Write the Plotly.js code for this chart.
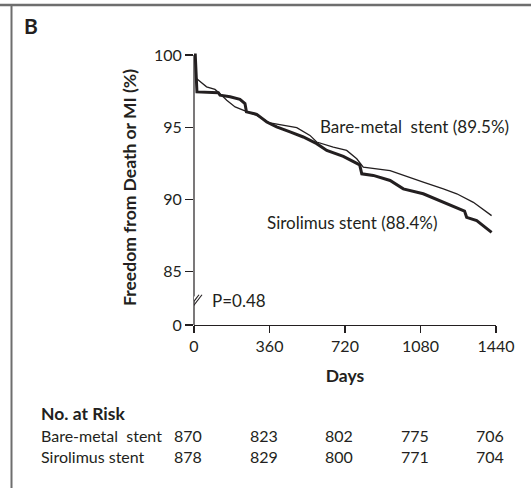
<!DOCTYPE html>
<html>
<head>
<meta charset="utf-8">
<script src="https://cdn.plot.ly/plotly-3.0.1.min.js"></script>
<style>html,body{margin:0;padding:0;background:#fff;}#chart{width:531px;height:488px;}</style>
</head>
<body>
<div id="chart"></div>
<script>
// ---- data ----
const bmsDays = [0, 6, 10, 44, 60, 100, 110, 132, 156, 196, 243, 299, 362, 442, 490, 553, 585, 664, 728, 776, 807, 935, 998, 1093, 1189, 1253, 1332, 1419];
const bmsSurv = [100, 100, 98.4, 98.03, 97.8, 97.62, 97.5, 97.22, 96.88, 96.41, 96.14, 95.83, 95.3, 95.07, 94.98, 94.44, 93.98, 93.63, 93.4, 92.82, 92.25, 92.01, 91.67, 91.2, 90.74, 90.4, 89.81, 88.89];
const sesDays = [0, 6, 14, 116, 124, 172, 219, 243, 250, 299, 347, 394, 458, 521, 585, 633, 712, 776, 790, 800, 855, 935, 998, 1093, 1173, 1253, 1290, 1300, 1348, 1419];
const sesSurv = [100, 100, 97.45, 97.4, 97.22, 97.11, 96.94, 96.64, 96.07, 95.9, 95.37, 95.03, 94.68, 94.33, 93.87, 93.4, 92.99, 92.48, 92.4, 91.78, 91.67, 91.32, 90.74, 90.4, 89.93, 89.47, 89.2, 88.77, 88.54, 87.73];

const xTicks = [0, 360, 720, 1080, 1440];
const yBreakZero = 81.32;            // where the broken-axis "0" sits
const yTickVals = [yBreakZero, 85, 90, 95, 100];
const yTickText = ['0', '85', '90', '95', '100'];

const riskGroups = ['Bare-metal\u00a0 stent', 'Sirolimus stent'];
const riskBms = [870, 823, 802, 775, 706];
const riskSes = [878, 829, 800, 771, 704];

const seriesNames = ['Bare-metal stent', 'Sirolimus stent'];
const seriesLabels = ['Bare-metal\u00a0 stent (89.5%)', 'Sirolimus stent (88.4%)'];
const pValue = 'P=0.48';

// ---- styling ----
const FONT = 'Lato, "Open Sans", sans-serif';
const INK = '#231f20';

const traces = [
  {x: bmsDays, y: bmsSurv, name: seriesNames[0], mode: 'lines', line: {color: INK, width: 1.3}, hoverinfo: 'skip'},
  {x: sesDays, y: sesSurv, name: seriesNames[1], mode: 'lines', line: {color: INK, width: 3}, hoverinfo: 'skip'}
];

const pxToPaperX = px => (px - 194) / 302;
const pxToPaperY = py => (325 - py) / 275;

const annotations = [
  {text: '<b>B</b>', xref: 'paper', yref: 'paper', x: pxToPaperX(22), y: pxToPaperY(25), xanchor: 'left', yanchor: 'middle', showarrow: false, font: {size: 21, color: INK, family: FONT}},
  {text: seriesLabels[0], xref: 'x', yref: 'y', x: 591, y: 95.07, xanchor: 'left', yanchor: 'middle', showarrow: false, font: {size: 17, color: INK, family: FONT}},
  {text: seriesLabels[1], xref: 'x', yref: 'y', x: 338, y: 88.4, xanchor: 'left', yanchor: 'middle', showarrow: false, font: {size: 17, color: INK, family: FONT}},
  {text: pValue, xref: 'x', yref: 'y', x: 76, y: 83.0, xanchor: 'left', yanchor: 'middle', showarrow: false, font: {size: 17, color: INK, family: FONT}},
  {text: '<b>No. at Risk</b>', xref: 'paper', yref: 'paper', x: pxToPaperX(39), y: pxToPaperY(413), xanchor: 'left', yanchor: 'middle', showarrow: false, font: {size: 17.5, color: INK, family: FONT}},
  {text: riskGroups.join('<br>'), xref: 'paper', yref: 'paper', x: pxToPaperX(39), y: pxToPaperY(446), xanchor: 'left', yanchor: 'middle', align: 'left', showarrow: false, font: {size: 16, color: INK, family: FONT}}
];
xTicks.forEach((d, i) => {
  annotations.push({text: riskBms[i] + '<br>' + riskSes[i], xref: 'x', yref: 'paper', x: d, xshift: -6, y: pxToPaperY(446), xanchor: 'center', yanchor: 'middle', align: 'center', showarrow: false, font: {size: 16, color: INK, family: FONT}});
});

const FRAME = '#6e6e6e';
const shapes = [
  // outer frame (top + left)
  {type: 'line', xref: 'paper', yref: 'paper', x0: pxToPaperX(0), x1: pxToPaperX(531), y0: pxToPaperY(5), y1: pxToPaperY(5), line: {color: FRAME, width: 2.5}},
  {type: 'line', xref: 'paper', yref: 'paper', x0: pxToPaperX(11.5), x1: pxToPaperX(11.5), y0: pxToPaperY(4), y1: pxToPaperY(490), line: {color: FRAME, width: 2}},
  // y axis line
  {type: 'line', xref: 'paper', yref: 'y', x0: 0, x1: 0, y0: yBreakZero, y1: 100, line: {color: INK, width: 1.2}},
  // axis break
  {type: 'line', xref: 'x', yref: 'y', xsizemode: 'pixel', ysizemode: 'pixel', xanchor: 0, yanchor: 83.0, x0: -9, x1: 7, y0: -10, y1: 10, line: {color: '#ffffff', width: 3}},
  {type: 'line', xref: 'x', yref: 'y', xsizemode: 'pixel', ysizemode: 'pixel', xanchor: 0, yanchor: 83.0, x0: -8, x1: 5, y0: -11, y1: 6, line: {color: INK, width: 1.1}},
  {type: 'line', xref: 'x', yref: 'y', xsizemode: 'pixel', ysizemode: 'pixel', xanchor: 0, yanchor: 83.0, x0: -5, x1: 8, y0: -11, y1: 6, line: {color: INK, width: 1.1}}
];

const layout = {
  width: 531, height: 488,
  margin: {l: 194, r: 35, t: 50, b: 163, pad: 0},
  paper_bgcolor: '#fff', plot_bgcolor: '#fff',
  showlegend: false,
  font: {family: FONT, color: INK, size: 16},
  xaxis: {
    range: [0, 1440], tickvals: xTicks, ticktext: xTicks.map(String),
    showgrid: false, zeroline: false, showline: true, linecolor: INK, linewidth: 1.2,
    ticks: 'outside', ticklen: 7, tickwidth: 1.2, tickcolor: INK,
    tickfont: {size: 16, color: INK, family: FONT},
    title: {text: '<b>Days</b>', font: {size: 17.5, color: INK, family: FONT}, standoff: 15},
    automargin: false, fixedrange: true
  },
  yaxis: {
    range: [yBreakZero, 100.35], tickvals: yTickVals, ticktext: yTickText,
    showgrid: false, zeroline: false, showline: false,
    ticks: 'outside', ticklen: 8, tickwidth: 1.2, tickcolor: INK,
    tickfont: {size: 16, color: INK, family: FONT},
    title: {text: '<b>Freedom from Death or MI (%)</b>', font: {size: 17.5, color: INK, family: FONT}, standoff: 12},
    automargin: false, fixedrange: true
  },
  annotations: annotations,
  shapes: shapes
};

Plotly.newPlot('chart', traces, layout, {staticPlot: true, displayModeBar: false});
</script>
</body>
</html>
